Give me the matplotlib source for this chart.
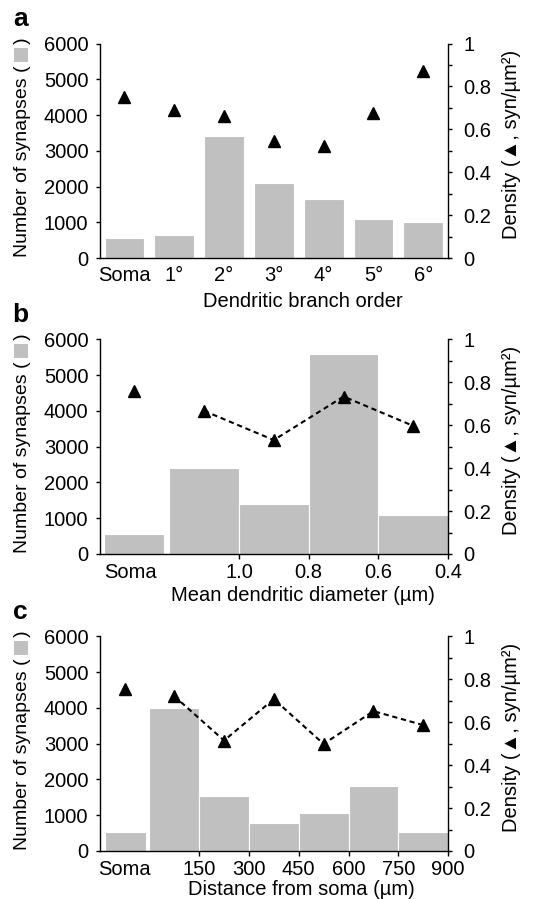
import numpy as np
import matplotlib
matplotlib.use('Agg')
import matplotlib.pyplot as plt
from matplotlib.patches import Rectangle

plt.rcParams['font.family'] = ['Liberation Sans', 'DejaVu Sans']
plt.rcParams['font.size'] = 14

# a: dendritic branch order
order_labels = ['Soma', '1°', '2°', '3°', '4°', '5°', '6°']
order_counts = [550, 640, 3400, 2110, 1650, 1090, 1005]
order_density = [0.752, 0.69, 0.664, 0.547, 0.522, 0.674, 0.87]

# b: mean dendritic diameter (um), thick -> thin
diam_edges = [1.2, 1.0, 0.8, 0.6, 0.4]
diam_counts = [2400, 1400, 5600, 1100]
diam_density = [0.667, 0.531, 0.734, 0.597]
diam_soma_count = 570
diam_soma_density = 0.761
diam_ticks = [1.0, 0.8, 0.6, 0.4]

# c: distance from soma (um)
dist_edges = [0, 150, 300, 450, 600, 750, 900]
dist_counts = [4000, 1545, 796, 1067, 1807, 524]
dist_density = [0.722, 0.515, 0.708, 0.499, 0.652, 0.587]
dist_soma_count = 524
dist_soma_density = 0.757
dist_ticks = [150, 300, 450, 600, 750, 900]

bar_col = '#c0c0c0'
tri = dict(marker='^', color='black', markersize=8.5, linestyle='none', zorder=5)
dash = dict(color='black', linestyle=(0, (2.5, 1.8)), linewidth=1.5, zorder=4)


def style_axes(ax, ax2, letter):
    ax.set_ylim(0, 6000)
    ax.set_yticks(np.arange(0, 6001, 1000))
    ax2.set_ylim(0, 1)
    ax2.set_yticks([0, 0.2, 0.4, 0.6, 0.8, 1])
    ax2.set_yticklabels(['0', '0.2', '0.4', '0.6', '0.8', '1'])
    ax2.set_yticks(np.arange(0.1, 1.0, 0.2), minor=True)
    for s in ['top', 'right']:
        ax.spines[s].set_visible(False)
    for s in ['top', 'left', 'bottom']:
        ax2.spines[s].set_visible(False)
    for a in (ax, ax2):
        for s in a.spines.values():
            s.set_linewidth(1.0)
    ax.tick_params(axis='y', direction='out', length=3, width=1, pad=5, labelsize=14.5)
    ax.tick_params(axis='x', direction='out', length=3.5, width=1, pad=3, labelsize=14.5)
    ax2.tick_params(axis='y', which='both', direction='out', length=3, width=1, pad=8,
                    labelsize=14.5)
    lab = ax.text(-0.222, 0.515, 'Number of synapses (    )', transform=ax.transAxes,
                  rotation=90, ha='center', va='center', fontsize=14)
    ax.text(1.183, 0.53, 'Density (\u25b2, syn/\u00b5m\u00b2)', transform=ax.transAxes,
            rotation=90, ha='center', va='center', fontsize=14.5)
    ax.text(-0.226, 1.115, letter, transform=ax.transAxes, fontsize=19,
            fontweight='bold', ha='center', va='center')
    return lab


fig = plt.figure(figsize=(5.38, 8.99), dpi=100)
left, width, height = 0.185, 0.648, 0.2386
ax_a = fig.add_axes([left, 0.713, width, height])
ax_b = fig.add_axes([left, 0.3838, width, height])
ax_c = fig.add_axes([left, 0.0534, width, height])
ax_a2 = ax_a.twinx()
ax_b2 = ax_b.twinx()
ax_c2 = ax_c.twinx()

labels = []

# panel a
x = np.arange(len(order_labels))
ax_a.bar(x, order_counts, width=0.8, color=bar_col, edgecolor='white', linewidth=0.8)
ax_a2.plot(x, order_density, **tri)
ax_a.set_xlim(-0.5, len(order_labels) - 0.5)
ax_a.set_xticks(x)
ax_a.set_xticklabels(order_labels)
labels.append(style_axes(ax_a, ax_a2, 'a'))
ax_a.tick_params(axis='x', length=0, pad=6)
ax_a.set_xlabel('Dendritic branch order', fontsize=14.5)
ax_a.xaxis.set_label_coords(0.584, -0.16)

# panel b
soma_b = 1.3
centers = (np.array(diam_edges[:-1]) + np.array(diam_edges[1:])) / 2
widths = np.abs(np.diff(diam_edges))
ax_b.bar(centers, diam_counts, width=widths, color=bar_col, edgecolor='white', linewidth=0.8)
ax_b.bar([soma_b], [diam_soma_count], width=0.172, color=bar_col, edgecolor='white', linewidth=0.8)
ax_b2.plot(centers, diam_density, **dash)
ax_b2.plot(centers, diam_density, **tri)
ax_b2.plot([soma_b], [diam_soma_density], **tri)
ax_b.set_xlim(1.4, 0.4)
ax_b.set_xticks([soma_b + 0.01] + diam_ticks)
ax_b.set_xticklabels(['Soma'] + ['%.1f' % t for t in diam_ticks])
labels.append(style_axes(ax_b, ax_b2, 'b'))
ax_b.xaxis.get_major_ticks()[0].tick1line.set_visible(False)
ax_b.set_xlabel('Mean dendritic diameter (\u00b5m)', fontsize=14.5)
ax_b.xaxis.set_label_coords(0.584, -0.15)

# panel c
soma_c = -72
centers = (np.array(dist_edges[:-1]) + np.array(dist_edges[1:])) / 2
widths = np.diff(dist_edges)
ax_c.bar(centers, dist_counts, width=widths, color=bar_col, edgecolor='white', linewidth=0.8)
ax_c.bar([soma_c], [dist_soma_count], width=126, color=bar_col, edgecolor='white', linewidth=0.8)
ax_c2.plot(centers, dist_density, **dash)
ax_c2.plot(centers, dist_density, **tri)
ax_c2.plot([soma_c], [dist_soma_density], **tri)
ax_c.set_xlim(-150, 900)
ax_c.set_xticks([-76] + dist_ticks)
ax_c.set_xticklabels(['Soma'] + [str(t) for t in dist_ticks])
labels.append(style_axes(ax_c, ax_c2, 'c'))
ax_c.xaxis.get_major_ticks()[0].tick1line.set_visible(False)
ax_c.set_xlabel('Distance from soma (\u00b5m)', fontsize=14.5)
ax_c.xaxis.set_label_coords(0.58, -0.135)

for a in (ax_a2, ax_b2, ax_c2):
    a.set_zorder(3)
    a.patch.set_visible(False)

# grey legend square inside the left-hand label
fig.canvas.draw()
r = fig.canvas.get_renderer()
for t in labels:
    bb = t.get_window_extent(r)
    fp = t.get_fontproperties()
    w_pre = r.get_text_width_height_descent('Number of synapses (', fp, ismath=False)[0]
    w_full = r.get_text_width_height_descent(t.get_text(), fp, ismath=False)[0]
    w_close = r.get_text_width_height_descent(')', fp, ismath=False)[0]
    cy = bb.y0 + w_pre + (w_full - w_pre - w_close) / 2
    cx = (bb.x0 + bb.x1) / 2 - 1
    s = 14
    (fx0, fy0), (fx1, fy1) = fig.transFigure.inverted().transform([(cx - s / 2, cy - s / 2),
                                                                   (cx + s / 2, cy + s / 2)])
    fig.add_artist(Rectangle((fx0, fy0), fx1 - fx0, fy1 - fy0, transform=fig.transFigure,
                             facecolor=bar_col, edgecolor='none'))

fig.savefig('out.png', dpi=100)
